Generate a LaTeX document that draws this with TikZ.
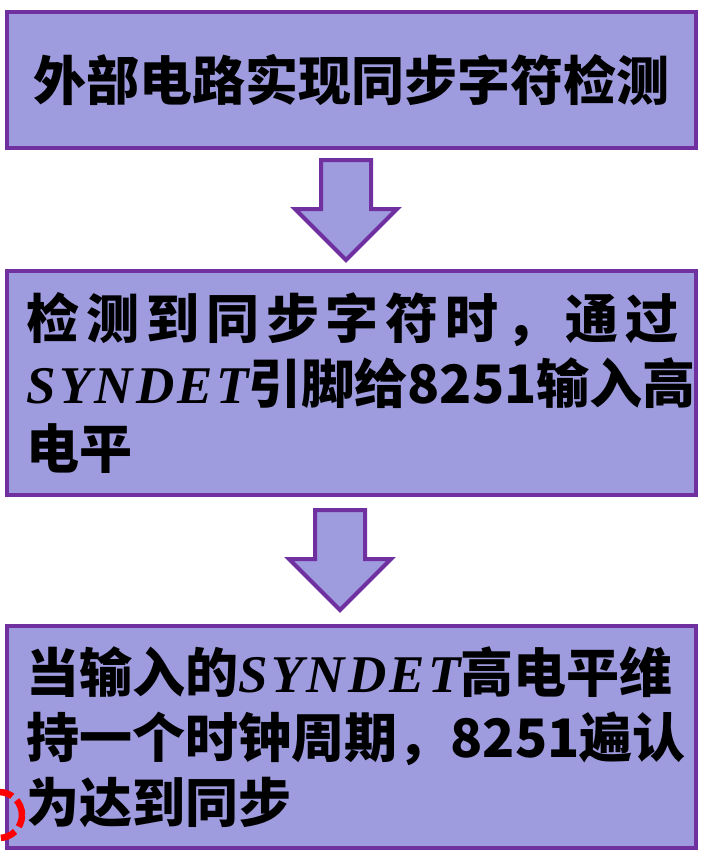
\documentclass[tikz,border=0pt]{standalone}
\usepackage{fontspec}
\newfontfamily\cjk{Noto Sans CJK SC}
\newfontfamily\synfont{Liberation Serif}[LetterSpace=6]
\usetikzlibrary{shapes.arrows,calc}
\definecolor{boxfill}{RGB}{158,155,222}
\definecolor{boxdraw}{RGB}{112,48,160}
\newcommand{\syn}{{\synfont\bfseries\itshape SYNDET}}

\begin{document}
\begin{tikzpicture}[x=1pt, y=-1pt,
  stepbox/.style={rectangle, draw=boxdraw, fill=boxfill, line width=4pt,
    minimum width=689pt, text width=650pt,
    inner xsep=19pt, inner ysep=0pt,
    font=\cjk\bfseries\fontsize{53}{65}\selectfont},
  downarrow/.style={single arrow, rotate=-90, draw=boxdraw, fill=boxfill,
    line width=4pt, minimum height=100pt, minimum width=98pt,
    inner xsep=0pt, inner ysep=23pt, single arrow head extend=26pt},
  redmark/.style={draw=red, line width=6.5pt,
    dash pattern=on 16pt off 6pt}
]
\useasboundingbox (0,0) rectangle (709,859);

% Nodes
\node[stepbox, minimum height=136pt, align=center] (b1) at (351.5,80)
  {外部电路实现同步字符检测};
\node[stepbox, minimum height=224pt, align=left] (b2) at (351.5,383)
  {{\addfontfeature{LetterSpace=13}检测到同步字符时，通过}\\
   \syn{}引脚给8251输入高\\
   电平};
\node[stepbox, minimum height=222pt, align=left] (b3) at (351.5,737)
  {当输入的\syn{}高电平维\\
   持一个时钟周期，8251遍认\\
   为达到同步};

% Arrows
\node[downarrow] (a1) at ($(b1.south)!0.5!(b2.north)+(-5.5,-12)$) {};
\node[downarrow] (a2) at ($(b2.south)!0.5!(b3.north)+(-11.5,-13)$) {};

% Mark
\draw[redmark] (-1,815) circle (23pt);
\end{tikzpicture}
\end{document}
